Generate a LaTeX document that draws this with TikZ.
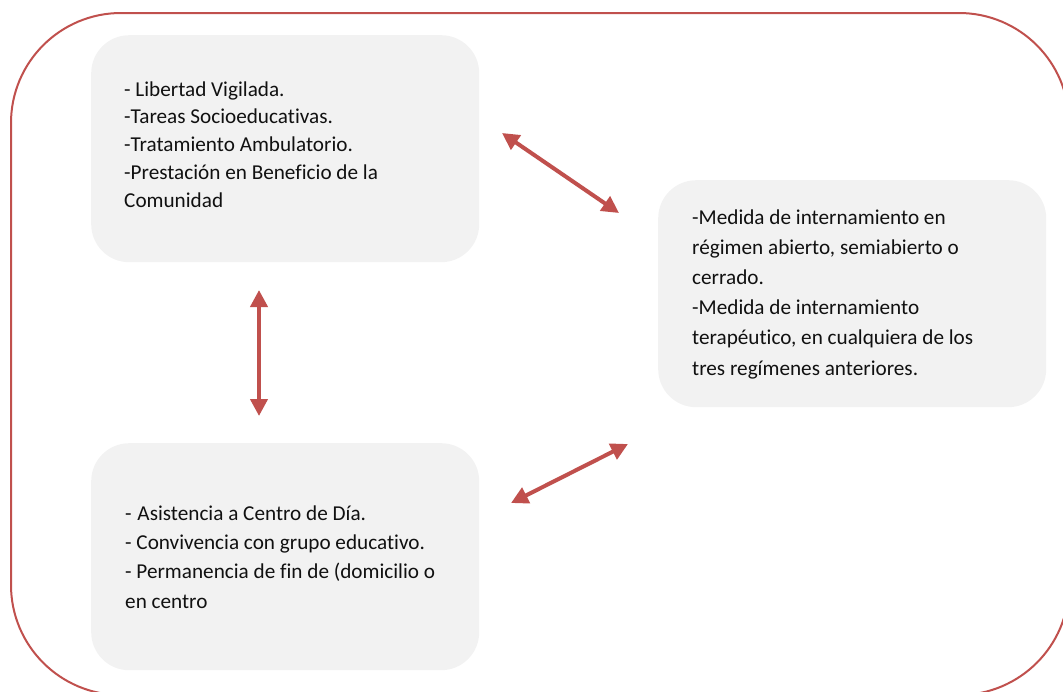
\documentclass[tikz,border=0pt]{standalone}
\usepackage{fontspec}
\setmainfont[Ligatures=NoCommon]{Carlito}
\usetikzlibrary{arrows.meta}
\definecolor{accred}{HTML}{C0504D}
\definecolor{boxgray}{HTML}{F2F2F2}
\definecolor{txt}{HTML}{111111}
\tikzset{
  graybox/.style={fill=boxgray, draw=none, rounded corners=38pt, minimum width=388pt, minimum height=227pt, inner sep=0pt, anchor=north west},
  boxtext/.style={anchor=base west, align=left, inner sep=0pt, text=txt, font=\fontsize{21.2pt}{#1}\selectfont},
  link/.style={draw=accred, line width=4pt, {Triangle[length=17pt,width=17pt]}-{Triangle[length=17pt,width=17pt]}}
}
\begin{document}
\begin{tikzpicture}[x=1pt,y=-1pt]
\useasboundingbox (0,0) rectangle (1063,691);
\begin{scope}
\clip (0,0) rectangle (1063,691);
\draw[accred, line width=2pt, rounded corners=110pt] (11,13) rectangle (1069,695);
\end{scope}
\node[graybox] (b1) at (91,35) {};
\node[graybox] (b2) at (658,180) {};
\node[graybox] (b3) at (91,443) {};
% anchored at the baseline of the last line
\node[boxtext=27.7pt] (t1) at (124,207) {- Libertad Vigilada.\\-Tareas Socioeducativas.\\-Tratamiento Ambulatorio.\\-Prestación en Beneficio de la\\Comunidad};
\node[boxtext=30.2pt] (t2) at (692,375) {-Medida de internamiento en\\régimen abierto, semiabierto o\\cerrado.\\-Medida de internamiento\\terapéutico, en cualquiera de los\\tres regímenes anteriores.};
\node[boxtext=29.3pt] (t3) at (125,608) {- \kern1pt Asistencia a Centro de Día.\\- Convivencia con grupo educativo.\\- Permanencia de fin de (domicilio o\\en centro};
\coordinate (a1s) at (502,133);
\coordinate (a1e) at (619,213);
\coordinate (a2s) at (628,444);
\coordinate (a2e) at (511,503);
\coordinate (a3s) at (259,290);
\coordinate (a3e) at (259,416);
\draw[link] (a1s) -- (a1e);
\draw[link] (a2s) -- (a2e);
\draw[link] (a3s) -- (a3e);
\end{tikzpicture}
\end{document}
